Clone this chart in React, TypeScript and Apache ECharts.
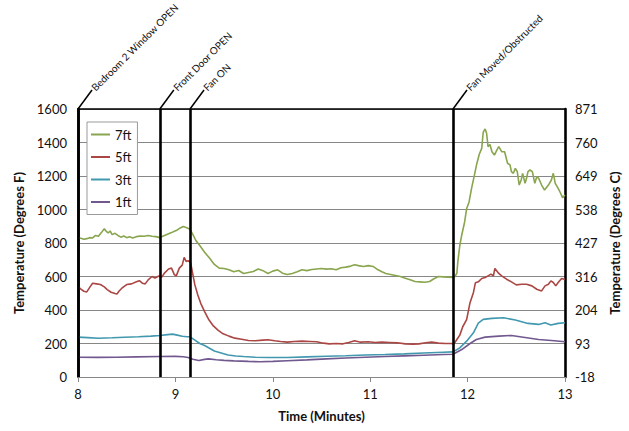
import React, { useEffect, useRef } from 'react';
import * as echarts from 'echarts';

const seriesNames = ['7ft', '5ft', '3ft', '1ft'];
const seriesColors = ['#89A54E', '#AA4643', '#4198AF', '#71588F'];

const t7 = [8.00, 8.03, 8.06, 8.09, 8.12, 8.15, 8.18, 8.21, 8.24, 8.27, 8.29, 8.31, 8.33, 8.35, 8.38, 8.41, 8.44, 8.47, 8.50, 8.53, 8.56, 8.60, 8.64, 8.68, 8.72, 8.76, 8.80, 8.84, 8.87, 8.90, 8.93, 8.96, 8.99, 9.02, 9.05, 9.08, 9.11, 9.15, 9.18, 9.21, 9.25, 9.30, 9.35, 9.40, 9.45, 9.50, 9.55, 9.60, 9.65, 9.70, 9.75, 9.80, 9.85, 9.90, 9.95, 10.00, 10.05, 10.10, 10.15, 10.20, 10.25, 10.30, 10.35, 10.40, 10.45, 10.50, 10.55, 10.60, 10.65, 10.70, 10.75, 10.80, 10.84, 10.88, 10.93, 10.98, 11.03, 11.08, 11.12, 11.16, 11.21, 11.26, 11.31, 11.36, 11.41, 11.46, 11.51, 11.56, 11.61, 11.65, 11.70, 11.75, 11.80, 11.85, 11.87, 11.89, 11.90, 11.92, 11.94, 11.97, 11.99, 12.015, 12.04, 12.07, 12.095, 12.12, 12.145, 12.16, 12.18, 12.195, 12.21, 12.23, 12.25, 12.275, 12.30, 12.32, 12.35, 12.38, 12.41, 12.435, 12.45, 12.47, 12.49, 12.51, 12.53, 12.55, 12.565, 12.59, 12.605, 12.62, 12.64, 12.665, 12.69, 12.71, 12.73, 12.76, 12.79, 12.83, 12.86, 12.88, 12.90, 12.93, 12.955, 12.975, 13.00];
const v7 = [830, 828, 822, 826, 832, 830, 845, 840, 862, 885, 870, 860, 872, 850, 858, 845, 835, 842, 832, 838, 830, 838, 842, 840, 845, 840, 838, 832, 840, 848, 855, 862, 870, 878, 890, 898, 892, 882, 850, 815, 785, 745, 710, 672, 650, 648, 640, 628, 636, 618, 624, 630, 645, 635, 618, 632, 640, 620, 612, 618, 628, 640, 635, 642, 645, 648, 644, 646, 640, 652, 656, 662, 670, 665, 660, 665, 660, 640, 628, 618, 612, 606, 600, 590, 580, 570, 568, 566, 570, 585, 600, 598, 596, 594, 600, 620, 690, 785, 848, 927, 1005, 1045, 1125, 1205, 1275, 1330, 1365, 1460, 1481, 1455, 1375, 1388, 1345, 1325, 1355, 1375, 1345, 1345, 1276, 1266, 1226, 1216, 1246, 1226, 1146, 1176, 1216, 1156, 1186, 1226, 1236, 1226, 1156, 1196, 1186, 1146, 1116, 1146, 1176, 1216, 1156, 1126, 1097, 1071, 1087];

const t5 = [8.00, 8.03, 8.06, 8.09, 8.12, 8.15, 8.19, 8.23, 8.27, 8.30, 8.34, 8.38, 8.40, 8.42, 8.45, 8.50, 8.55, 8.60, 8.63, 8.66, 8.69, 8.72, 8.76, 8.79, 8.83, 8.86, 8.89, 8.93, 8.96, 8.99, 9.01, 9.04, 9.07, 9.09, 9.11, 9.13, 9.155, 9.18, 9.20, 9.23, 9.26, 9.30, 9.34, 9.39, 9.44, 9.49, 9.55, 9.61, 9.68, 9.75, 9.82, 9.90, 9.95, 10.02, 10.08, 10.15, 10.22, 10.30, 10.38, 10.45, 10.52, 10.58, 10.65, 10.72, 10.78, 10.84, 10.90, 10.98, 11.05, 11.12, 11.20, 11.28, 11.36, 11.44, 11.50, 11.57, 11.63, 11.70, 11.77, 11.83, 11.86, 11.89, 11.92, 11.95, 11.99, 12.025, 12.06, 12.08, 12.11, 12.145, 12.18, 12.21, 12.24, 12.265, 12.28, 12.32, 12.35, 12.40, 12.45, 12.50, 12.555, 12.605, 12.66, 12.71, 12.76, 12.795, 12.83, 12.855, 12.88, 12.905, 12.93, 12.965, 13.00];
const v5 = [540, 525, 512, 508, 535, 560, 556, 552, 538, 522, 506, 498, 495, 512, 530, 552, 556, 568, 575, 560, 556, 580, 600, 590, 603, 596, 622, 645, 650, 610, 605, 650, 668, 714, 690, 694, 685, 610, 550, 490, 440, 390, 345, 305, 278, 258, 244, 232, 225, 218, 216, 220, 222, 216, 212, 208, 212, 214, 212, 210, 202, 198, 200, 198, 206, 216, 208, 210, 206, 208, 206, 204, 198, 196, 198, 204, 208, 202, 200, 200, 198, 224, 250, 300, 342, 444, 505, 562, 568, 588, 594, 604, 614, 604, 648, 618, 604, 584, 568, 550, 554, 554, 544, 524, 514, 544, 554, 574, 564, 544, 564, 588, 582];

const t3 = [8.00, 8.10, 8.21, 8.35, 8.48, 8.62, 8.75, 8.84, 8.92, 8.97, 9.02, 9.07, 9.12, 9.15, 9.20, 9.25, 9.30, 9.35, 9.40, 9.47, 9.54, 9.62, 9.70, 9.82, 9.95, 10.15, 10.35, 10.55, 10.75, 10.95, 11.15, 11.35, 11.55, 11.75, 11.85, 11.92, 11.99, 12.06, 12.11, 12.16, 12.25, 12.37, 12.49, 12.62, 12.73, 12.795, 12.855, 12.93, 13.00];
const v3 = [238, 235, 231, 234, 237, 240, 244, 248, 253, 256, 250, 243, 240, 240, 220, 200, 188, 172, 155, 143, 131, 125, 122, 118, 116, 116, 120, 124, 127, 131, 134, 138, 143, 148, 150, 174, 214, 264, 322, 344, 350, 354, 340, 320, 314, 324, 310, 320, 324];

const t1 = [8.00, 8.20, 8.40, 8.60, 8.84, 9.00, 9.08, 9.13, 9.18, 9.24, 9.30, 9.34, 9.42, 9.50, 9.60, 9.75, 9.87, 10.00, 10.15, 10.35, 10.55, 10.75, 10.95, 11.15, 11.35, 11.55, 11.75, 11.85, 11.94, 12.025, 12.09, 12.18, 12.32, 12.45, 12.59, 12.73, 12.86, 13.00];
const v1 = [118, 117, 118, 120, 122, 123, 121, 116, 106, 99, 105, 108, 103, 99, 96, 93, 91, 93, 97, 102, 108, 113, 118, 122, 126, 130, 134, 136, 164, 200, 224, 238, 244, 248, 236, 224, 218, 210];

const seriesTimes = [t7, t5, t3, t1];
const seriesValues = [v7, v5, v3, v1];

const xMin = 8;
const xMax = 13;
const xInterval = 1;
const yMin = 0;
const yMax = 1600;
const yInterval = 200;

const eventTimes = [8.0, 8.84, 9.15, 11.85];
const eventLabels = ['Bedroom 2 Window OPEN', 'Front Door OPEN', 'Fan ON', 'Fan Moved/Obstructed'];

const xTitle = 'Time (Minutes)';
const yLeftTitle = 'Temperature (Degrees F)';
const yRightTitle = 'Temperature (Degrees C)';

const FONT = 'Lato, "Noto Sans", sans-serif';
const GRID_GRAY = '#878787';

function fToC(v: number): string {
  return String(Math.round(((v - 32) * 5) / 9));
}

function plain(v: number): string {
  return String(v);
}

export default function App() {
  const ref = useRef<HTMLDivElement>(null);

  useEffect(() => {
    if (!ref.current) return;
    const chart = echarts.init(ref.current, null, { renderer: 'svg' });

    const series: any[] = seriesNames.map((name, i) => ({
      name,
      type: 'line',
      xAxisIndex: 0,
      yAxisIndex: 0,
      symbol: 'none',
      showSymbol: false,
      z: 3,
      lineStyle: { color: seriesColors[i], width: 1.6 },
      itemStyle: { color: seriesColors[i] },
      data: seriesTimes[i].map((t, k) => [t, seriesValues[i][k]]),
    }));
    series[0].markLine = {
      silent: true,
      symbol: ['none', 'none'],
      label: { show: false },
      lineStyle: { color: '#000', width: 2.6, type: 'solid' },
      z: 5,
      data: eventTimes.map((t) => ({ xAxis: t })),
    };

    const option: any = {
      animation: false,
      backgroundColor: '#fff',
      textStyle: { fontFamily: FONT },
      grid: {
        left: 78,
        right: 64,
        top: 109,
        bottom: 54,
        containLabel: false,
        outerBoundsMode: 'none',
      },
      legend: {
        data: seriesNames,
        orient: 'vertical',
        left: 87,
        top: 122,
        icon: 'rect',
        itemWidth: 19,
        itemHeight: 2,
        itemGap: 7.5,
        padding: [5, 6, 5, 4],
        borderColor: '#9a9a9a',
        borderWidth: 1,
        backgroundColor: '#fff',
        textStyle: { fontFamily: FONT, fontSize: 13, color: '#111', lineHeight: 15 },
      },
      xAxis: [
        {
          type: 'value',
          min: xMin,
          max: xMax,
          interval: xInterval,
          position: 'bottom',
          name: xTitle,
          nameLocation: 'middle',
          nameGap: 32,
          nameTextStyle: { fontFamily: FONT, fontSize: 13, fontWeight: 'bold', color: '#111' },
          axisLine: { show: true, lineStyle: { color: GRID_GRAY, width: 1 } },
          axisTick: { show: true, inside: false, length: 5, lineStyle: { color: GRID_GRAY } },
          axisLabel: { fontFamily: FONT, fontSize: 13, color: '#111', margin: 10, formatter: plain },
          splitLine: { show: false },
        },
        {
          type: 'value',
          min: xMin,
          max: xMax,
          position: 'top',
          axisLine: { show: true, onZero: false, lineStyle: { color: '#000', width: 1.6 } },
          axisTick: { show: false },
          axisLabel: { show: false },
          splitLine: { show: false },
        },
      ],
      yAxis: [
        {
          type: 'value',
          min: yMin,
          max: yMax,
          interval: yInterval,
          position: 'left',
          name: yLeftTitle,
          nameLocation: 'middle',
          nameGap: 47,
          nameTextStyle: { fontFamily: FONT, fontSize: 13, fontWeight: 'bold', color: '#111' },
          axisLine: { show: true, lineStyle: { color: '#000', width: 2.6 } },
          axisTick: { show: false },
          axisLabel: { fontFamily: FONT, fontSize: 13, color: '#111', margin: 11, formatter: plain },
          splitLine: { show: true, lineStyle: { color: GRID_GRAY, width: 1 } },
        },
        {
          type: 'value',
          min: yMin,
          max: yMax,
          interval: yInterval,
          position: 'right',
          name: yRightTitle,
          nameLocation: 'middle',
          nameGap: 40,
          nameRotate: 90,
          nameTextStyle: { fontFamily: FONT, fontSize: 13, fontWeight: 'bold', color: '#111' },
          axisLine: { show: true, lineStyle: { color: '#000', width: 2.6 } },
          axisTick: { show: false },
          axisLabel: { fontFamily: FONT, fontSize: 13, color: '#111', margin: 10, formatter: fToC },
          splitLine: { show: false },
        },
      ],
      series,
    };

    chart.setOption(option);

    const topY = chart.convertToPixel({ yAxisIndex: 0 }, yMax) as number;
    const leadDx = 14;
    const leadDy = 19;
    const graphics: any[] = [];
    eventTimes.forEach((t, i) => {
      const x = chart.convertToPixel({ xAxisIndex: 0 }, t) as number;
      graphics.push({
        type: 'line',
        silent: true,
        z: 10,
        shape: { x1: x, y1: topY, x2: x + leadDx, y2: topY - leadDy },
        style: { stroke: '#000', lineWidth: 1.5 },
      });
      graphics.push({
        type: 'text',
        silent: true,
        z: 10,
        x: x + leadDx + 1,
        y: topY - leadDy - 1,
        rotation: Math.PI / 4,
        style: {
          text: eventLabels[i],
          fontFamily: FONT,
          fontSize: 10,
          fill: '#111',
          align: 'left',
          verticalAlign: 'middle',
        },
      });
    });
    chart.setOption({ graphic: graphics });

    return () => {
      chart.dispose();
    };
  }, []);

  return (
    <div
      ref={ref}
      style={{ position: 'fixed', left: 0, top: 0, width: 629, height: 431, background: '#fff' }}
    />
  );
}
